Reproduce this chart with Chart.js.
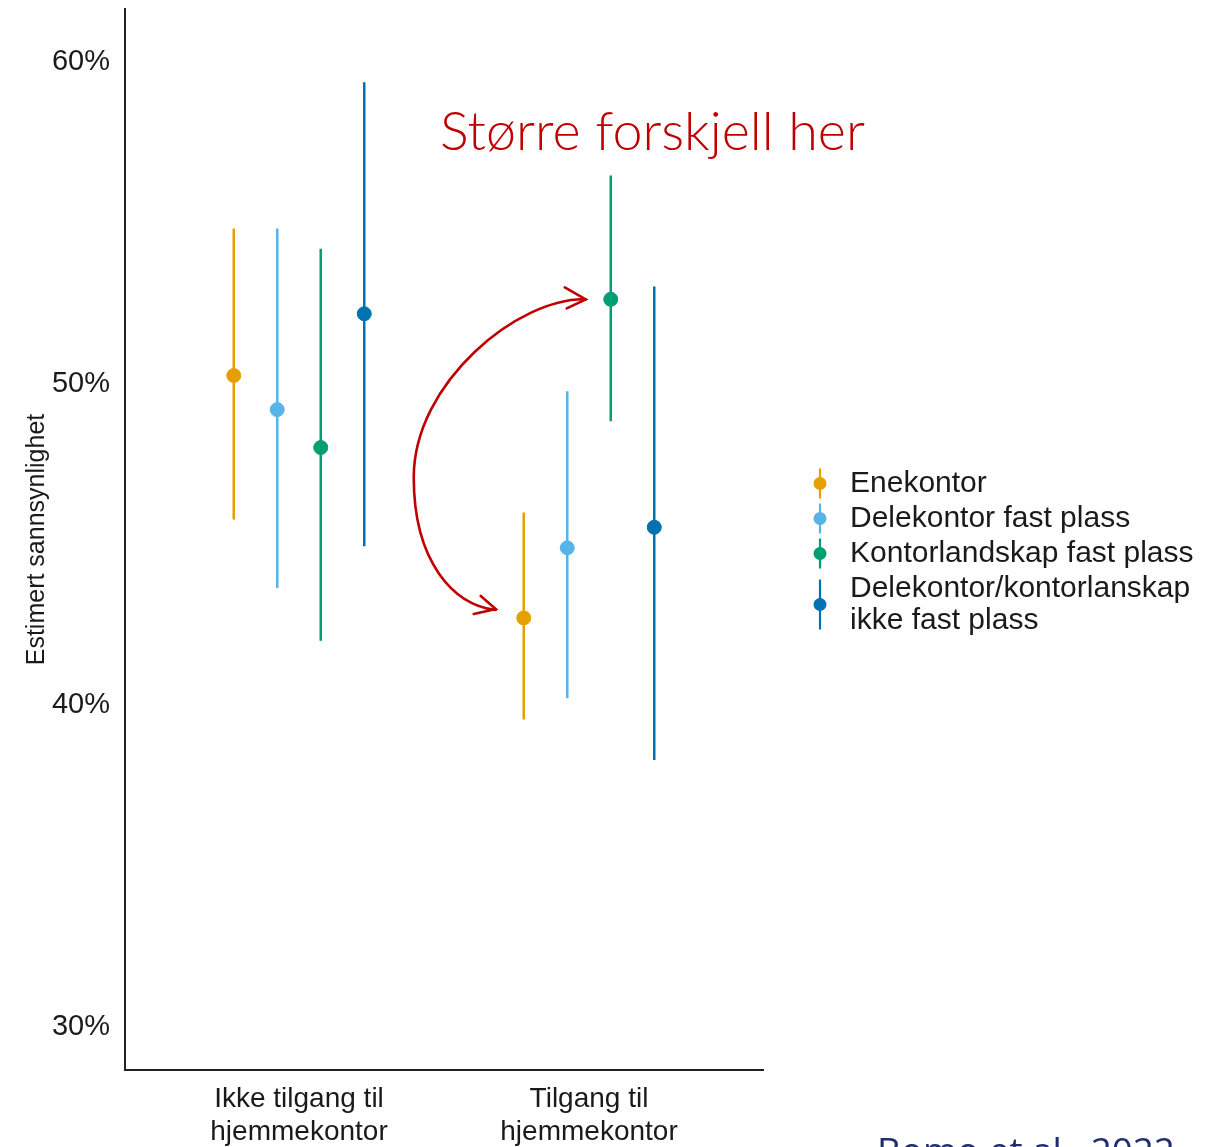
<!DOCTYPE html>
<html>
<head>
<meta charset="utf-8">
<script src="https://cdn.jsdelivr.net/npm/chart.js@4.4.0/dist/chart.umd.min.js"></script>
<style>
  html, body { margin: 0; padding: 0; background: #fff; }
  #wrap { width: 1211px; height: 1147px; position: relative; overflow: hidden; }
</style>
</head>
<body>
<div id="wrap"><canvas id="chart"></canvas></div>
<script>
// groups on the x axis
const groups = [['Ikke tilgang til', 'hjemmekontor'], ['Tilgang til', 'hjemmekontor']];
const seriesNames = ['Enekontor', 'Delekontor fast plass', 'Kontorlandskap fast plass', ['Delekontor/kontorlanskap', 'ikke fast plass']];
const seriesColors = ['#E69F00', '#56B4E9', '#009E73', '#0072B2'];

// estimates and interval ends (%), one value per group
const enekontorEst  = [50.25, 42.71];
const enekontorLow  = [45.77, 39.55];
const enekontorHigh = [54.82, 45.99];

const delekontorEst  = [49.19, 44.89];
const delekontorLow  = [43.64, 40.21];
const delekontorHigh = [54.82, 49.76];

const landskapEst  = [48.01, 52.62];
const landskapLow  = [42.00, 48.83];
const landskapHigh = [54.19, 56.47];

const ikkeFastEst  = [52.17, 45.53];
const ikkeFastLow  = [44.94, 38.29];
const ikkeFastHigh = [59.37, 53.02];

const yTicks = [30, 40, 50, 60];

const estimates = [enekontorEst, delekontorEst, landskapEst, ikkeFastEst];
const lows = [enekontorLow, delekontorLow, landskapLow, ikkeFastLow];
const highs = [enekontorHigh, delekontorHigh, landskapHigh, ikkeFastHigh];

const dodge = [-0.225, -0.075, 0.075, 0.225];
const xOf = (g, s) => g + 1 + dodge[s];

const pointSets = estimates.map((est, s) => ({
  type: 'scatter',
  label: Array.isArray(seriesNames[s]) ? seriesNames[s].join(' ') : seriesNames[s],
  data: est.map((v, g) => ({ x: xOf(g, s), y: v })),
  backgroundColor: seriesColors[s],
  borderColor: seriesColors[s],
  pointRadius: 7,
  pointHoverRadius: 7,
  order: 1
}));

const barSets = estimates.map((est, s) => {
  const data = [];
  est.forEach((v, g) => {
    data.push({ x: xOf(g, s), y: lows[s][g] });
    data.push({ x: xOf(g, s), y: highs[s][g] });
    data.push({ x: xOf(g, s), y: null });
  });
  return {
    type: 'line',
    label: 'ci' + s,
    data: data,
    borderColor: seriesColors[s],
    borderWidth: 2.5,
    pointRadius: 0,
    spanGaps: false,
    order: 2
  };
});

const txt = '#1a1a1a';
const baseFont = '"Liberation Sans", Arial, sans-serif';

// legend drawn at the right of the plot
const legendPlugin = {
  id: 'sideLegend',
  afterDraw(chart) {
    const ctx = chart.ctx;
    const area = chart.chartArea;
    const rowH = 35, lineH = 32;
    const rows = seriesNames.map(n => Array.isArray(n) ? n : [n]);
    let total = 0;
    rows.forEach(r => { total += rowH + (r.length - 1) * lineH; });
    let y = (area.top + area.bottom) / 2 - total / 2 + 30;
    ctx.save();
    ctx.font = '30px ' + baseFont;
    ctx.textBaseline = 'middle';
    rows.forEach((r, s) => {
      const h = rowH + (r.length - 1) * lineH;
      const cy = y + (r.length - 1) * lineH / 2;
      const ix = 820;
      ctx.strokeStyle = seriesColors[s];
      ctx.lineWidth = 2.2;
      ctx.beginPath();
      ctx.moveTo(ix, cy - 15 - (r.length - 1) * 10);
      ctx.lineTo(ix, cy + 15 + (r.length - 1) * 10);
      ctx.stroke();
      ctx.fillStyle = seriesColors[s];
      ctx.beginPath();
      ctx.arc(ix, cy, 6.5, 0, Math.PI * 2);
      ctx.fill();
      ctx.fillStyle = txt;
      r.forEach((line, i) => ctx.fillText(line, 850, y + i * lineH));
      y += h;
    });
    ctx.restore();
  }
};

// hand-drawn style note with curved arrow
const notePlugin = {
  id: 'note',
  afterDraw(chart) {
    const ctx = chart.ctx;
    const xs = chart.scales.x, ys = chart.scales.y;
    const red = '#C00000';
    ctx.save();
    const label = 'Større forskjell her';
    let size = 50;
    ctx.font = '300 ' + size + 'px Lato, "Open Sans", sans-serif';
    const w = ctx.measureText(label).width;
    size = size * 425 / w;
    ctx.font = '300 ' + size + 'px Lato, "Open Sans", sans-serif';
    ctx.fillStyle = red;
    ctx.textBaseline = 'alphabetic';
    ctx.fillText(label, 440, 150);

    // arrow from green point to orange point in second group
    const ax = xs.getPixelForValue(xOf(1, 2)) - 25;
    const ay = ys.getPixelForValue(landskapEst[1]);
    const bx = xs.getPixelForValue(xOf(1, 0)) - 28;
    const by = ys.getPixelForValue(enekontorEst[1]) - 8;
    const lx = ax - 172, ly = ay + 178;
    ctx.strokeStyle = red;
    ctx.lineWidth = 2.6;
    ctx.lineCap = 'round';
    ctx.beginPath();
    ctx.moveTo(ax, ay);
    ctx.bezierCurveTo(ax - 67, ay - 2, lx, ly - 95, lx, ly);
    ctx.bezierCurveTo(lx, ly + 85, bx - 42, by - 5, bx, by);
    ctx.stroke();
    ctx.beginPath();
    ctx.moveTo(ax - 21, ay - 12);
    ctx.lineTo(ax, ay);
    ctx.lineTo(ax - 19, ay + 9);
    ctx.stroke();
    ctx.beginPath();
    ctx.moveTo(bx - 15, by - 14);
    ctx.lineTo(bx, by - 1);
    ctx.lineTo(bx - 22, by + 4);
    ctx.stroke();

    // source, cut by the bottom edge
    ctx.fillStyle = '#1F2E6E';
    ctx.font = '36px "Open Sans", sans-serif';
    const src = 'Bomo et al., 2022';
    const sw = ctx.measureText(src).width;
    ctx.font = (36 * 298 / sw) + 'px "Open Sans", sans-serif';
    ctx.fillText(src, 877, 1164);
    ctx.restore();
  }
};

new Chart(document.getElementById('chart'), {
  type: 'scatter',
  data: { datasets: [...pointSets, ...barSets] },
  options: {
    responsive: true,
    maintainAspectRatio: false,
    animation: false,
    layout: { autoPadding: false, padding: { top: 9, right: 448, bottom: 0, left: 0 } },
    plugins: { legend: { display: false }, tooltip: { enabled: false } },
    scales: {
      x: {
        type: 'linear',
        min: 0.4,
        max: 2.6,
        grid: { display: false },
        border: { display: true, color: '#222', width: 2 },
        afterBuildTicks: s => { s.ticks = groups.map((g, i) => ({ value: i + 1 })); },
        afterFit: s => { s.height = 77; s.paddingLeft = 0; s.paddingRight = 0; },
        ticks: {
          color: txt,
          font: { family: baseFont, size: 28, lineHeight: 1.2 },
          padding: 4,
          maxRotation: 0,
          autoSkip: false,
          callback: v => groups[v - 1]
        }
      },
      y: {
        min: 28.65,
        max: 61.65,
        grid: { display: false },
        border: { display: true, color: '#222', width: 2 },
        afterBuildTicks: s => { s.ticks = yTicks.map(v => ({ value: v })); },
        afterFit: s => { s.width = 125; s.paddingTop = 0; s.paddingBottom = 0; },
        ticks: {
          color: txt,
          font: { family: baseFont, size: 29 },
          padding: 7,
          callback: v => v + '%'
        },
        title: {
          display: true,
          text: 'Estimert sannsynlighet',
          color: txt,
          font: { family: baseFont, size: 25 },
          padding: { top: 22, bottom: 0 }
        }
      }
    }
  },
  plugins: [legendPlugin, notePlugin]
});
</script>
</body>
</html>
